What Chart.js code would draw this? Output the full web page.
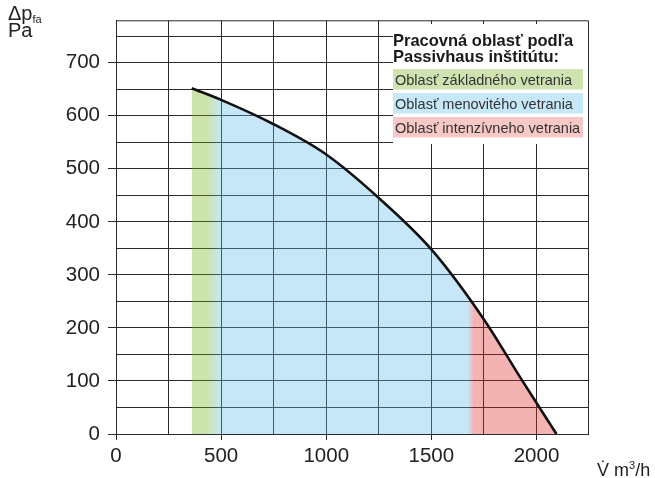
<!DOCTYPE html>
<html lang="sk">
<head>
<meta charset="utf-8">
<title>Pracovná oblasť podľa Passivhaus inštitútu</title>
<script src="https://cdn.jsdelivr.net/npm/chart.js@4.4.1/dist/chart.umd.min.js"></script>
<style>
  html, body { margin: 0; padding: 0; background: #fff; }
  #wrap {
    position: relative;
    width: 655px;
    height: 478px;
    font-family: "Liberation Sans", Arial, Helvetica, sans-serif;
    color: #222;
  }
  #chart { position: absolute; left: 0; top: 0; }
  .titulo { position: absolute; white-space: nowrap; line-height: 1; }
  .titulo sub { font-size: 11px; vertical-align: -3px; }
  .titulo sup { font-size: 11px; vertical-align: 7px; }
</style>
</head>
<body>
<div id="wrap">
  <canvas id="chart" width="655" height="478"></canvas>
  <div class="titulo" style="left:8px; top:3px; font-size:20px;">Δp<sub>fa</sub></div>
  <div class="titulo" style="left:8px; top:20px; font-size:20px;">Pa</div>
  <div class="titulo" style="left:597px; top:460px; font-size:18px;">V̇ m<sup>3</sup>/h</div>
</div>
<script>
// Krivka ventilátora: prietok (m3/h) a tlak (Pa)
let airFlow = [360, 500, 750, 1000, 1250, 1500, 1750, 1930, 2095];
let pressure = [652, 630, 584, 527, 445, 348, 216, 102, 0];

// Oblasti podľa Passivhaus inštitútu (začiatok každej oblasti v m3/h)
let zoneLabels = [
  "Oblasť základného vetrania",
  "Oblasť menovitého vetrania",
  "Oblasť intenzívneho vetrania",
];
let zoneStart = [360, 500, 1705];

// Osi
let xGrid = [0, 250, 500, 750, 1000, 1250, 1500, 1750, 2000];
let xLabels = [0, 500, 1000, 1500, 2000];
let yGrid = [0, 50, 100, 150, 200, 250, 300, 350, 400, 450, 500, 550, 600, 650, 700, 750];
let yLabels = [0, 100, 200, 300, 400, 500, 600, 700];

// Farby (výplň je priesvitná, aby mriežka presvitala)
const fillColors = ["rgba(112,175,21,0.35)", "rgba(92,186,235,0.35)", "rgba(224,38,38,0.35)"];
const boxColors = ["#cfe3b1", "#c7e8f8", "#f6c8c6"];
const blendPx = [14, 7];
const lineColor = "#2a2a2a";
const fontFamily = '"Liberation Sans", Arial, Helvetica, sans-serif';

// Horizontálny prechod farieb medzi oblasťami
function zoneGradient(context) {
  const chart = context.chart;
  const { ctx, chartArea, scales } = chart;
  if (!chartArea || !scales.x) return fillColors[1];
  const x0 = scales.x.getPixelForValue(airFlow[0]);
  const x1 = scales.x.getPixelForValue(airFlow[airFlow.length - 1]);
  const pos = (px) => Math.min(1, Math.max(0, (px - x0) / (x1 - x0)));
  const g = ctx.createLinearGradient(x0, 0, x1, 0);
  g.addColorStop(0, fillColors[0]);
  for (let i = 1; i < zoneStart.length; i++) {
    const px = scales.x.getPixelForValue(zoneStart[i]);
    g.addColorStop(pos(px - blendPx[i - 1]), fillColors[i - 1]);
    g.addColorStop(pos(px), fillColors[i]);
  }
  g.addColorStop(1, fillColors[fillColors.length - 1]);
  return g;
}

// Rám grafu a vysvetlivky
const framePlugin = {
  id: "frame",
  afterDraw(chart) {
    const { ctx, chartArea } = chart;
    ctx.save();
    ctx.strokeStyle = lineColor;
    ctx.lineWidth = 1;
    ctx.beginPath();
    ctx.moveTo(chartArea.left, chartArea.top + 0.5);
    ctx.lineTo(chartArea.right + 0.5, chartArea.top + 0.5);
    ctx.lineTo(chartArea.right + 0.5, chartArea.bottom);
    ctx.stroke();

    // biely box vysvetliviek
    const bx = 393;
    const by = 24;
    ctx.fillStyle = "#fff";
    ctx.fillRect(bx, by, chartArea.right - bx, 120);

    ctx.fillStyle = "#1a1a1a";
    ctx.font = "bold 16.5px " + fontFamily;
    ctx.textBaseline = "alphabetic";
    ctx.fillText("Pracovná oblasť podľa", bx, 46);
    ctx.fillText("Passivhaus inštitútu:", bx, 62);

    ctx.font = "14.5px " + fontFamily;
    for (let i = 0; i < zoneLabels.length; i++) {
      const top = 69 + i * 24;
      ctx.fillStyle = boxColors[i];
      ctx.fillRect(bx, top, 190, 20.5);
      ctx.fillStyle = "#333";
      ctx.fillText(zoneLabels[i], bx + 2, top + 16);
    }
    ctx.restore();
  },
};

let ctx = document.getElementById("chart").getContext("2d");
let fanChart = new Chart(ctx, {
  type: "line",
  data: {
    datasets: [
      {
        data: airFlow.map((x, i) => ({ x: x, y: pressure[i] })),
        borderColor: "#111",
        borderWidth: 2.6,
        backgroundColor: zoneGradient,
        fill: "origin",
        pointRadius: 0,
        cubicInterpolationMode: "monotone",
      },
    ],
  },
  options: {
    responsive: false,
    animation: false,
    layout: { padding: { left: 0, top: 20, right: 67, bottom: 0 } },
    plugins: {
      legend: { display: false },
      tooltip: { enabled: false },
    },
    scales: {
      x: {
        type: "linear",
        min: 0,
        max: 2245,
        afterBuildTicks: (scale) => {
          scale.ticks = xGrid.map((v) => ({ value: v }));
        },
        afterFit: (scale) => {
          scale.height = 44;
        },
        ticks: {
          autoSkip: false,
          maxRotation: 0,
          padding: 4,
          color: "#222",
          font: { family: fontFamily, size: 20.5 },
          callback: (v) => (xLabels.includes(v) ? String(v) : ""),
        },
        grid: {
          color: lineColor,
          lineWidth: 1,
          tickLength: 6,
          tickColor: (c) => (c.tick && xLabels.includes(c.tick.value) ? lineColor : "rgba(0,0,0,0)"),
        },
        border: { color: lineColor, width: 1 },
      },
      y: {
        type: "linear",
        min: 0,
        max: 780,
        afterBuildTicks: (scale) => {
          scale.ticks = yGrid.map((v) => ({ value: v }));
        },
        afterFit: (scale) => {
          scale.width = 116;
        },
        ticks: {
          autoSkip: false,
          padding: 8,
          color: "#222",
          font: { family: fontFamily, size: 20.5 },
          callback: (v) => (yLabels.includes(v) ? String(v) : ""),
        },
        grid: {
          color: lineColor,
          lineWidth: 1,
          tickLength: 8,
          tickColor: (c) => (c.tick && yLabels.includes(c.tick.value) ? lineColor : "rgba(0,0,0,0)"),
        },
        border: { color: lineColor, width: 1 },
      },
    },
  },
  plugins: [framePlugin],
});
</script>
</body>
</html>
